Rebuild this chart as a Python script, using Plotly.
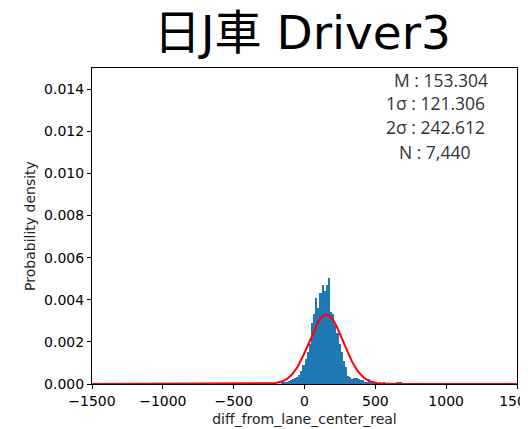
import numpy as np
import plotly.graph_objects as go

# ---- data ----
BIN_WIDTH = 15
bin_left_edges = list(range(-165, 705, 15))
densities = [
    0.00005, 0.0001, 0.00011, 0.00012, 0.0002, 0.00022, 0.0003, 0.00033, 0.00045, 0.0006, 0.0009,
    0.0012, 0.0015, 0.0019, 0.0029, 0.0033, 0.0041, 0.0036, 0.0043, 0.0047, 0.0044, 0.0047, 0.00505,
    0.0034, 0.0033, 0.0028, 0.0024, 0.0019, 0.0015, 0.0011, 0.0008, 0.0004, 0.00035,
    0.00022, 0.00027, 0.00027, 0.00025, 0.0002, 0.00018, 0.0001, 0.0001, 0.00024, 0.00012,
    0.00008, 0.00005, 0.00003, 0.00002, 0.00003, 0.00008, 0.00003, 0.00002, 0.00003, 0.00002,
    0.00003, 0.00005, 0.00008, 0.00008, 0.00003,
]
MEAN = 153.304
SIGMA = 121.306
N = 7440
title_text = "日J車 Driver3"
stat_lines = [f"M : {MEAN:.3f}", f"1σ : {SIGMA:.3f}", f"2σ : {2*SIGMA:.3f}", f"N : {N:,}"]
x_tick_vals = [-1500, -1000, -500, 0, 500, 1000, 1500]
y_tick_vals = [0.000, 0.002, 0.004, 0.006, 0.008, 0.010, 0.012, 0.014]

n = min(len(bin_left_edges), len(densities))
centers = [e + BIN_WIDTH / 2 for e in bin_left_edges[:n]]

# fitted normal curve from the stated parameters
xs = np.linspace(-1500, 1500, 1201)
pdf = np.exp(-0.5 * ((xs - MEAN) / SIGMA) ** 2) / (SIGMA * np.sqrt(2 * np.pi))

fig = go.Figure()
fig.add_trace(go.Bar(x=centers, y=densities[:n], width=BIN_WIDTH,
                     marker=dict(color="#1f77b4", line=dict(width=0)), showlegend=False))
fig.add_trace(go.Scatter(x=xs, y=pdf, mode="lines", line=dict(color="red", width=2),
                         showlegend=False))

stat_x = [0.822, 0.808, 0.808, 0.805]
stat_y = [0.962, 0.889, 0.813, 0.734]
for txt, sx, sy in zip(stat_lines, stat_x, stat_y):
    fig.add_annotation(xref="paper", yref="paper", x=sx, y=sy, xanchor="center", yanchor="middle",
                       text=txt, showarrow=False,
                       font=dict(family="Open Sans, Noto Sans CJK JP", size=17.5, color="#333333"))

tickfont = dict(family="DejaVu Sans", size=14, color="black")
fig.update_layout(
    width=520, height=421,
    margin=dict(l=84, r=11, t=60, b=45),
    paper_bgcolor="white", plot_bgcolor="white",
    bargap=0,
    title=dict(text=title_text, x=0.566, xanchor="center", y=0.942, yanchor="middle",
               xref="container", yref="container",
               font=dict(family="DejaVu Sans, Noto Sans CJK JP", size=47, color="black")),
    xaxis=dict(range=[-1500, 1500], tickvals=x_tick_vals, ticktext=[str(v).replace("-", "−") for v in x_tick_vals],
               ticks="outside", ticklen=4, tickcolor="black", showgrid=False, zeroline=False,
               showline=True, mirror=True, linecolor="black", linewidth=1,
               tickfont=tickfont, automargin=False, ticklabeloverflow="allow",
               title=dict(text="diff_from_lane_center_real", font=dict(family="DejaVu Sans", size=14, color="#222"),
                          standoff=6)),
    yaxis=dict(range=[0, 0.015], tickvals=y_tick_vals, ticktext=[f"{v:.3f}" for v in y_tick_vals],
               ticks="outside", ticklen=4, tickcolor="black", showgrid=False, zeroline=False,
               showline=True, mirror=True, linecolor="black", linewidth=1,
               tickfont=tickfont, automargin=False,
               title=dict(text="Probability density", font=dict(family="DejaVu Sans", size=14, color="#222"),
                          standoff=5)),
)

fig.write_html("out.html")
